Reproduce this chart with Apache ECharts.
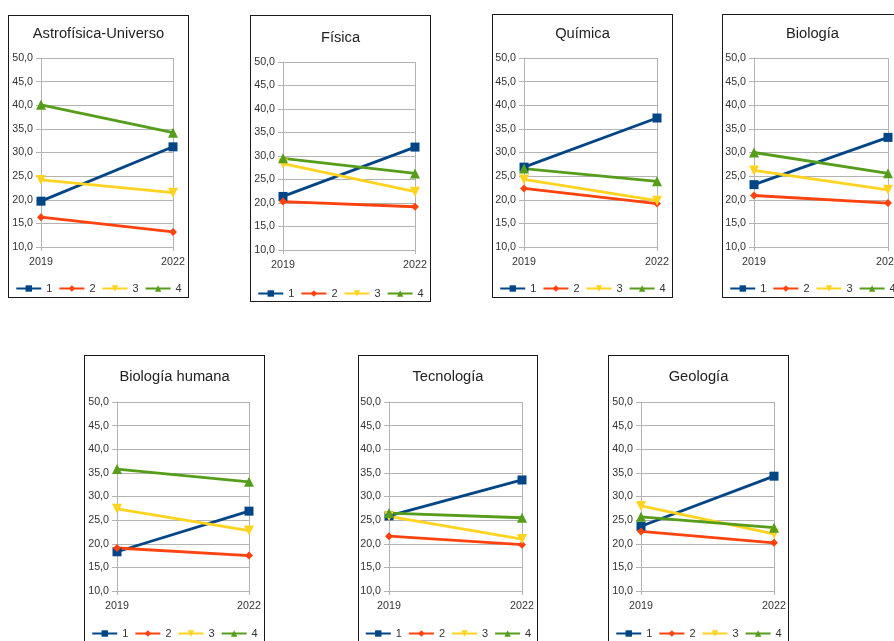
<!DOCTYPE html>
<html>
<head>
<meta charset="utf-8">
<script src="https://cdn.jsdelivr.net/npm/echarts@6/dist/echarts.min.js"></script>
<style>
  html, body { margin: 0; padding: 0; background: #fff; overflow: hidden; width: 894px; height: 641px; }
  .panel { position: absolute; border: 1px solid #1a1a1a; background: #fff; }
</style>
</head>
<body>
<script>
// Years on the category axis and the four series shown in every panel
const years = ['2019', '2022'];
const seriesNames = ['1', '2', '3', '4'];
const yTicks = { min: 10, max: 50, step: 5 };

// Values per subject: series 1..4, each [2019, 2022]
const astrofisicaUniverso = [[19.7, 31.2], [16.3, 13.2], [24.2, 21.5], [40.1, 34.2]];
const fisica              = [[21.4, 31.9], [20.3, 19.2], [28.4, 22.4], [29.5, 26.3]];
const quimica             = [[26.9, 37.3], [22.4, 19.2], [24.3, 19.8], [26.6, 23.9]];
const biologia            = [[23.2, 33.2], [20.9, 19.3], [26.2, 22.1], [30.0, 25.6]];
const biologiaHumana      = [[18.3, 26.9], [19.1, 17.5], [27.4, 22.8], [35.8, 33.1]];
const tecnologia          = [[25.9, 33.5], [21.6, 19.8], [25.8, 21.0], [26.5, 25.5]];
const geologia            = [[23.7, 34.3], [22.6, 20.2], [28.0, 22.1], [25.7, 23.4]];

const subjects = [
  { title: 'Astrofísica-Universo', values: astrofisicaUniverso },
  { title: 'Física',               values: fisica },
  { title: 'Química',              values: quimica },
  { title: 'Biología',             values: biologia },
  { title: 'Biología humana',      values: biologiaHumana },
  { title: 'Tecnología',           values: tecnologia },
  { title: 'Geología',             values: geologia }
];

// Frame box and inner layout for each panel (pixels)
const frames = [
  { x: 8,   y: 15,  w: 181, h: 283, gl: 32, gt: 42, gw: 132, gh: 189, ty: 17, ly: 272 },
  { x: 250, y: 15,  w: 181, h: 287, gl: 32, gt: 46, gw: 132, gh: 188, ty: 21, ly: 277 },
  { x: 492, y: 14,  w: 181, h: 284, gl: 31, gt: 43, gw: 133, gh: 189, ty: 18, ly: 273 },
  { x: 722, y: 14,  w: 181, h: 284, gl: 31, gt: 43, gw: 134, gh: 189, ty: 18, ly: 273 },
  { x: 84,  y: 355, w: 181, h: 300, gl: 32, gt: 46, gw: 132, gh: 189, ty: 20, ly: 277 },
  { x: 358, y: 355, w: 180, h: 300, gl: 30, gt: 46, gw: 133, gh: 189, ty: 20, ly: 277 },
  { x: 608, y: 355, w: 181, h: 300, gl: 32, gt: 46, gw: 133, gh: 189, ty: 20, ly: 277 }
];

const colors = ['#004586', '#ff420e', '#ffd320', '#579d1c'];
const symbols = [
  'rect',
  'diamond',
  'path://M0,0 L10,0 L5,9 Z',
  'path://M5,0 L10,9 L0,9 Z'
];
const symbolSizes = [9, 8, 10, 10];
const gridColor = '#b3b3b3';
const textColor = '#333333';
const font = '"Liberation Sans", Arial, sans-serif';

subjects.forEach(function (subj, i) {
  const f = frames[i];
  const el = document.createElement('div');
  el.className = 'panel';
  el.style.left = f.x + 'px';
  el.style.top = f.y + 'px';
  el.style.width = (f.w - 2) + 'px';
  el.style.height = (f.h - 2) + 'px';
  document.body.appendChild(el);

  const chart = echarts.init(el, null, { renderer: 'canvas' });
  chart.setOption({
    animation: false,
    backgroundColor: '#fff',
    title: {
      text: subj.title,
      left: 'center',
      top: f.ty - 7,
      padding: 0,
      textStyle: { fontFamily: font, fontSize: 14.7, fontWeight: 'normal', color: '#222' }
    },
    legend: {
      data: seriesNames,
      left: 'center',
      top: f.ly - 5,
      padding: 0,
      itemWidth: 25,
      itemHeight: 8,
      itemGap: 6,
      textStyle: { fontFamily: font, fontSize: 11, color: textColor }
    },
    grid: {
      left: f.gl, top: f.gt, width: f.gw, height: f.gh,
      containLabel: false, outerBoundsMode: 'none'
    },
    xAxis: {
      type: 'category',
      data: years,
      boundaryGap: false,
      axisLine: { show: true, lineStyle: { color: gridColor, width: 1 } },
      axisTick: { show: true, length: 4, alignWithLabel: true, lineStyle: { color: gridColor } },
      axisLabel: { margin: 10, fontFamily: font, fontSize: 10.7, color: textColor, showMinLabel: true, showMaxLabel: true, interval: 0 },
      splitLine: { show: true, lineStyle: { color: gridColor, width: 1 } }
    },
    yAxis: {
      type: 'value',
      min: yTicks.min,
      max: yTicks.max,
      interval: yTicks.step,
      axisLine: { show: true, lineStyle: { color: gridColor, width: 1 } },
      axisTick: { show: true, length: 5, lineStyle: { color: gridColor } },
      axisLabel: {
        margin: 8,
        fontFamily: font, fontSize: 10.7, color: textColor,
        formatter: function (v) { return v.toFixed(1).replace('.', ','); }
      },
      splitLine: { show: true, lineStyle: { color: gridColor, width: 1 } }
    },
    series: seriesNames.map(function (name, k) {
      return {
        name: name,
        type: 'line',
        data: subj.values[k],
        symbol: symbols[k],
        symbolSize: symbolSizes[k],
        showAllSymbol: true,
        lineStyle: { color: colors[k], width: 2.8 },
        itemStyle: { color: colors[k], borderWidth: 0 },
        emphasis: { disabled: true }
      };
    })
  });
});
</script>
</body>
</html>
